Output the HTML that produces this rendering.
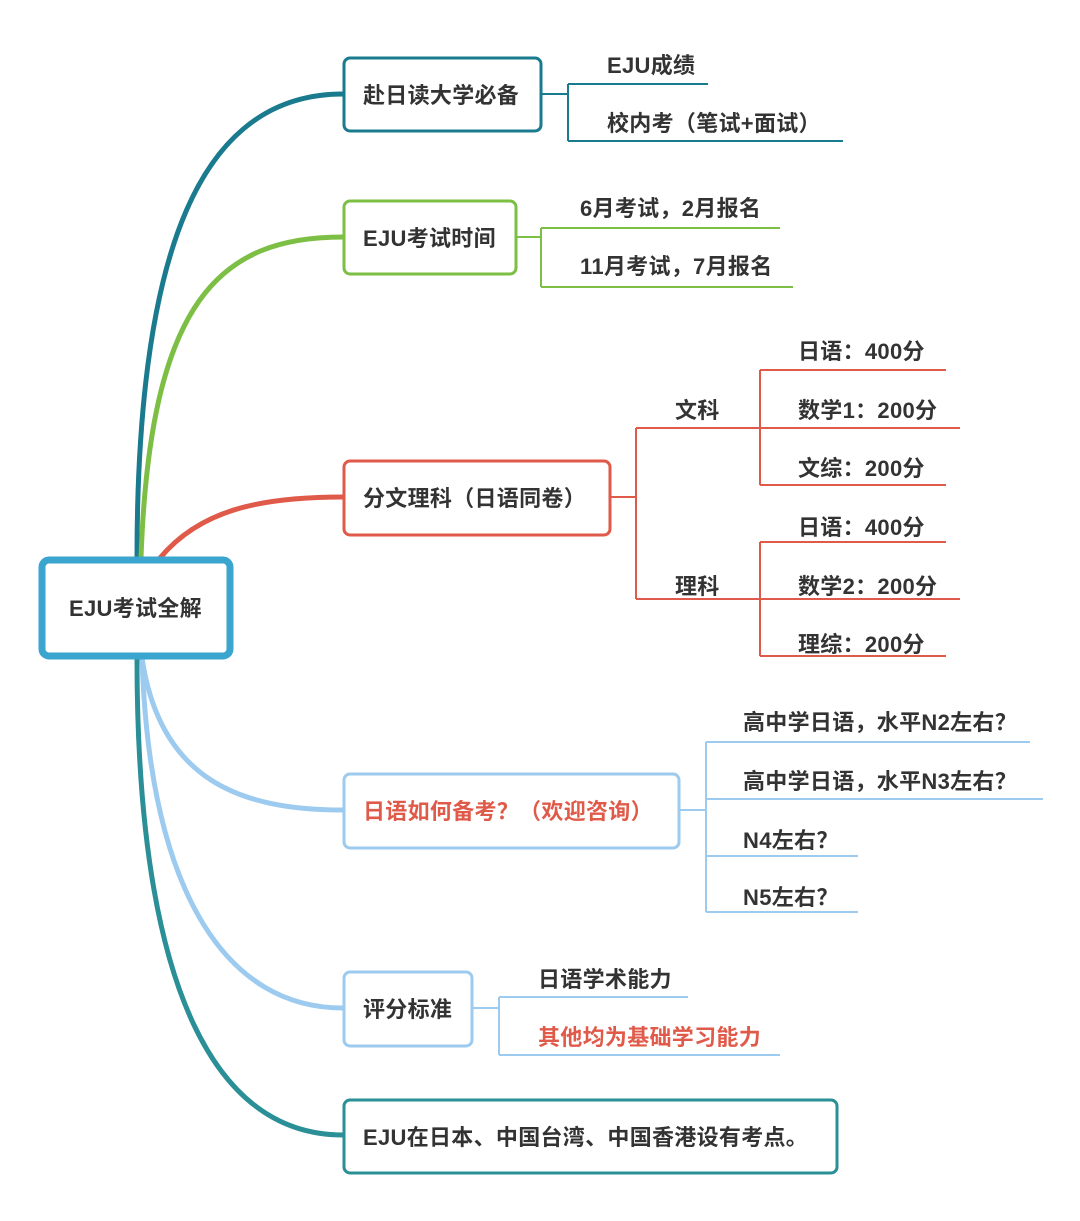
<!DOCTYPE html>
<html><head><meta charset="utf-8"><style>
html,body{margin:0;padding:0;background:#fff;}
svg text{font-family:"Liberation Sans","Noto Sans CJK SC",sans-serif;font-size:22px;font-weight:600;fill:#333;letter-spacing:0.3px;}
</style></head><body>
<svg width="1080" height="1216" viewBox="0 0 1080 1216" xmlns="http://www.w3.org/2000/svg">
<g fill="none" stroke-linecap="round">
<path d="M137,558 C137,250 200,94 343,94" stroke="#1a7a8e" stroke-width="5"/>
<path d="M141,558 C150,300 220,237 343,237" stroke="#7dbf45" stroke-width="5"/>
<path d="M160,558 C200,510 260,497 343,497" stroke="#e05a4a" stroke-width="5"/>
<path d="M137,658 C137,1000 220,1135 343,1135" stroke="#2a8f96" stroke-width="5"/>
<path d="M142,658 C150,900 230,1008 343,1008" stroke="#9dcbef" stroke-width="5"/>
<path d="M142,658 C160,780 240,810 343,810" stroke="#9dcbef" stroke-width="5"/>
</g>
<g fill="none" stroke-width="2">
<path d="M541,94 H568 M568,84 V141 M568,84 H708 M568,141 H843" stroke="#1a7a8e"/>
<path d="M516,237 H541 M541,228 V287 M541,228 H780 M541,287 H793" stroke="#7dbf45"/>
<path d="M610,497 H636 M636,428 V599 M636,428 H760 M636,599 H760 M760,370 V485 M760,370 H946 M760,428 H960 M760,485 H946 M760,542 V656 M760,542 H946 M760,599 H960 M760,656 H946" stroke="#e05a4a"/>
<path d="M679,810 H706 M706,742 V912 M706,742 H1030 M706,799 H1043 M706,856 H858 M706,912 H858" stroke="#9dcbef"/>
<path d="M472,1008 H499 M499,997 V1055 M499,997 H688 M499,1055 H780" stroke="#9dcbef"/>
</g>
<g fill="#fff">
<rect x="42" y="560" width="188" height="96" rx="7" stroke="#3aa6cf" stroke-width="7"/>
<rect x="344" y="58" width="197" height="73" rx="6" stroke="#1a7a8e" stroke-width="3"/>
<rect x="344" y="201" width="172" height="73" rx="6" stroke="#7dbf45" stroke-width="3"/>
<rect x="344" y="461" width="266" height="74" rx="6" stroke="#e05a4a" stroke-width="3"/>
<rect x="344" y="774" width="335" height="74" rx="6" stroke="#9dcbef" stroke-width="3"/>
<rect x="344" y="972" width="128" height="74" rx="6" stroke="#9dcbef" stroke-width="3"/>
<rect x="344" y="1100" width="493" height="73" rx="6" stroke="#2a8f96" stroke-width="3"/>
</g>
<text x="69" y="616">EJU考试全解</text>
<text x="363" y="103">赴日读大学必备</text>
<text x="363" y="246">EJU考试时间</text>
<text x="363" y="506">分文理科（日语同卷）</text>
<text x="363" y="819" style="fill:#e05a4a">日语如何备考？（欢迎咨询）</text>
<text x="363" y="1017">评分标准</text>
<text x="363" y="1145">EJU在日本、中国台湾、中国香港设有考点。</text>
<text x="607" y="73">EJU成绩</text>
<text x="607" y="131">校内考（笔试+面试）</text>
<text x="580" y="216">6月考试，2月报名</text>
<text x="580" y="274">11月考试，7月报名</text>
<text x="675" y="418">文科</text>
<text x="675" y="594">理科</text>
<text x="798" y="359">日语：400分</text>
<text x="798" y="418">数学1：200分</text>
<text x="798" y="476">文综：200分</text>
<text x="798" y="535">日语：400分</text>
<text x="798" y="594">数学2：200分</text>
<text x="798" y="652">理综：200分</text>
<text x="743" y="730">高中学日语，水平N2左右？</text>
<text x="743" y="789">高中学日语，水平N3左右？</text>
<text x="743" y="848">N4左右？</text>
<text x="743" y="905">N5左右？</text>
<text x="538" y="987">日语学术能力</text>
<text x="538" y="1045" style="fill:#e05a4a">其他均为基础学习能力</text>
</svg>
</body></html>
